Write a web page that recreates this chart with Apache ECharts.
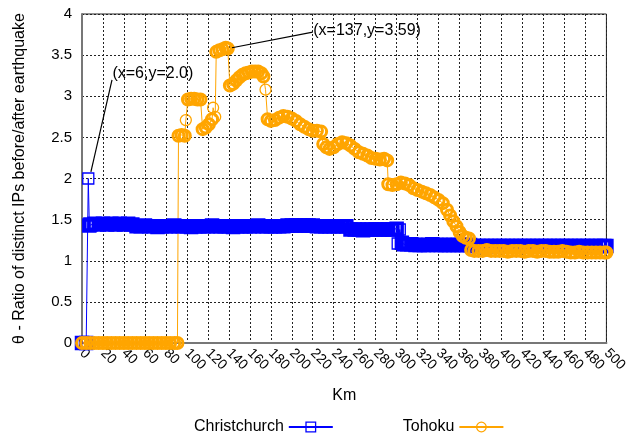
<!DOCTYPE html>
<html>
<head>
<meta charset="utf-8">
<script src="https://cdn.jsdelivr.net/npm/echarts@6/dist/echarts.min.js"></script>
<style>
  html, body { margin: 0; padding: 0; background: #fff; }
  #chart { width: 630px; height: 433px; }
</style>
</head>
<body>
<div id="chart"></div>
<script>
// Christchurch samples (km, ratio)
const chchKm = [0, 4, 6, 7,
  8, 12, 16, 20, 24, 28, 32, 36, 40, 44, 48, 52, 56, 60, 64, 68, 72, 76, 80, 84, 88, 92, 96,
  100, 104, 108, 112, 116, 120, 124, 128, 132, 136, 140, 144, 148, 152, 156, 160, 164, 168, 172, 176,
  180, 184, 188, 192, 196, 200, 204, 208, 212, 216, 220, 224, 228, 232, 236, 240, 244, 248, 252,
  256, 260, 264, 268, 272, 276, 280, 284, 288, 292, 296, 300, 301, 303, 305, 307,
  310, 314, 318, 322, 326, 330, 334, 338, 342, 346, 350, 354, 358, 362, 366, 370, 374, 378,
  382, 386, 390, 394, 398, 402, 406, 410, 414, 418, 422, 426, 430, 434, 438, 442, 446, 450,
  454, 458, 462, 466, 470, 474, 478, 482, 486, 490, 494, 498, 500];
const chchRatio = [0, 0, 2.0, 1.43,
  1.44, 1.45, 1.44, 1.45, 1.44, 1.45, 1.44, 1.45, 1.44, 1.45, 1.44, 1.42, 1.42, 1.43, 1.42, 1.42, 1.41, 1.42, 1.42, 1.42, 1.43, 1.42, 1.42,
  1.42, 1.41, 1.42, 1.42, 1.42, 1.42, 1.43, 1.42, 1.42, 1.42, 1.42, 1.41, 1.42, 1.42, 1.42, 1.42, 1.42, 1.43, 1.42, 1.42,
  1.42, 1.42, 1.42, 1.42, 1.43, 1.43, 1.43, 1.43, 1.43, 1.43, 1.43, 1.42, 1.42, 1.42, 1.42, 1.42, 1.42, 1.42, 1.42,
  1.38, 1.38, 1.38, 1.37, 1.38, 1.38, 1.38, 1.38, 1.38, 1.38, 1.38, 1.39, 1.21, 1.38, 1.22, 1.20,
  1.20, 1.20, 1.19, 1.19, 1.19, 1.19, 1.20, 1.19, 1.19, 1.19, 1.19, 1.19, 1.19, 1.19, 1.19, 1.19, 1.18, 1.18,
  1.18, 1.18, 1.18, 1.18, 1.18, 1.18, 1.18, 1.18, 1.18, 1.18, 1.18, 1.18, 1.18, 1.18, 1.18, 1.18, 1.18, 1.18,
  1.18, 1.18, 1.18, 1.18, 1.18, 1.18, 1.18, 1.18, 1.18, 1.18, 1.18, 1.18, 1.18];

// Tohoku samples (km, ratio)
const tohokuKm = [0, 4, 8, 12, 16, 20, 24, 28, 32, 36, 40, 44, 48, 52, 56, 60, 64, 68, 72, 76, 80, 84, 88, 91,
  92, 95, 98, 99, 101, 104, 107, 110, 113, 115, 118, 121, 124, 125, 127,
  128, 131, 134, 137, 139, 141, 144, 147, 150, 153, 156, 159, 162, 165, 168, 171, 173, 175,
  177, 180, 184, 188, 192, 196, 200, 204, 208, 212, 216, 220, 224, 228,
  230, 233, 236, 240, 244, 248, 252, 256, 260, 264, 268, 272, 276, 280, 284, 288, 291,
  292, 296, 300, 304, 308, 312, 316, 320, 324, 328, 332, 336, 340, 344, 348, 351, 354, 357, 360, 363, 366, 369,
  371, 374, 378, 382, 386, 390, 394, 398, 402, 406, 410, 414, 418, 422, 426, 430, 434, 438, 442, 446,
  450, 454, 458, 462, 466, 470, 474, 478, 482, 486, 490, 494, 498, 500];
const tohokuRatio = [0, 0, 0, 0, 0, 0, 0, 0, 0, 0, 0, 0, 0, 0, 0, 0, 0, 0, 0, 0, 0, 0, 0, 0,
  2.52, 2.53, 2.52, 2.71, 2.96, 2.97, 2.97, 2.96, 2.96, 2.60, 2.62, 2.66, 2.72, 2.86, 2.75,
  3.54, 3.56, 3.57, 3.59, 3.58, 3.13, 3.15, 3.19, 3.23, 3.26, 3.28, 3.29, 3.30, 3.30, 3.30, 3.28, 3.24, 3.08,
  2.72, 2.70, 2.71, 2.74, 2.76, 2.75, 2.73, 2.70, 2.66, 2.63, 2.60, 2.58, 2.58, 2.57,
  2.42, 2.38, 2.36, 2.38, 2.42, 2.44, 2.43, 2.40, 2.36, 2.32, 2.30, 2.28, 2.25, 2.24, 2.23, 2.24, 2.22,
  1.93, 1.92, 1.93, 1.95, 1.94, 1.92, 1.88, 1.86, 1.84, 1.82, 1.80, 1.77, 1.74, 1.70, 1.62, 1.55, 1.48, 1.42, 1.35, 1.30, 1.28, 1.27,
  1.13, 1.12, 1.12, 1.12, 1.13, 1.12, 1.12, 1.12, 1.12, 1.11, 1.12, 1.12, 1.12, 1.11, 1.12, 1.12, 1.11, 1.12, 1.12, 1.11,
  1.11, 1.11, 1.12, 1.11, 1.10, 1.10, 1.11, 1.10, 1.10, 1.10, 1.10, 1.10, 1.10, 1.10];

const seriesNames = ['Christchurch', 'Tohoku'];
const FONT = 'Liberation Sans, Arial, sans-serif';
const BLUE = '#0000ff';
const ORANGE = '#ffa500';

const chart = echarts.init(document.getElementById('chart'), null, { renderer: 'canvas' });

// points far from both neighbours get a thin outline, the rest overlap into a band
function pairs(xs, ys) {
  return xs.map((x, i) => {
    const prev = i > 0 ? ys[i - 1] : null;
    const next = i < ys.length - 1 ? ys[i + 1] : null;
    const lone = (prev === null || Math.abs(ys[i] - prev) > 0.1) &&
                 (next === null || Math.abs(ys[i] - next) > 0.1);
    const item = { value: [x, ys[i]] };
    if (lone) item.itemStyle = { borderWidth: 1.3 };
    return item;
  });
}

const noteStyle = { color: '#000', fontSize: 16, fontFamily: FONT };

chart.setOption({
  animation: false,
  backgroundColor: '#fff',
  grid: {
    left: 82, right: 23, top: 14, bottom: 90,
    show: true, borderColor: '#222', borderWidth: 1
  },
  legend: {
    data: seriesNames,
    left: 189, top: 414,
    align: 'right',
    itemWidth: 44, itemHeight: 12, itemGap: 69,
    textStyle: { color: '#000', fontSize: 16, fontFamily: FONT },
    itemStyle: { borderWidth: 1.3 }
  },
  xAxis: {
    type: 'value',
    min: 0, max: 500, interval: 20,
    name: 'Km', nameLocation: 'middle', nameGap: 45,
    nameTextStyle: { color: '#000', fontSize: 16, fontFamily: FONT },
    axisLine: { show: true, lineStyle: { color: '#777', width: 2 } },
    axisTick: { show: false },
    axisLabel: { rotate: -45, color: '#000', fontSize: 14, fontFamily: FONT, margin: 8 },
    splitLine: { show: true, lineStyle: { color: '#222', type: [2, 2], width: 1 } }
  },
  yAxis: {
    type: 'value',
    min: 0, max: 4, interval: 0.5,
    name: 'θ - Ratio of distinct IPs before/after earthquake',
    nameLocation: 'middle', nameGap: 54,
    nameTextStyle: { color: '#000', fontSize: 16, fontFamily: FONT },
    axisLine: { show: true, lineStyle: { color: '#777', width: 2 } },
    axisTick: { show: false },
    axisLabel: { color: '#000', fontSize: 15, fontFamily: FONT, margin: 10 },
    splitLine: { show: true, lineStyle: { color: '#222', type: [2, 2], width: 1 } }
  },
  series: [
    {
      name: seriesNames[0],
      type: 'line',
      data: pairs(chchKm, chchRatio),
      symbol: 'rect', symbolSize: 11,
      lineStyle: { color: BLUE, width: 1 },
      itemStyle: { color: 'rgba(0,0,0,0)', borderColor: BLUE, borderWidth: 3.5 },
      markLine: {
        silent: true, symbol: ['none', 'none'],
        lineStyle: { color: '#000', type: 'solid', width: 1.2 },
        label: { show: false },
        data: [[{ coord: [28.6, 3.2] }, { coord: [8.5, 2.08] }]]
      },
      markPoint: {
        symbol: 'circle', symbolSize: 0,
        label: { show: true, position: 'right', distance: 0, formatter: '(x=6,y=2.0)', ...noteStyle },
        data: [{ coord: [29, 3.27] }]
      }
    },
    {
      name: seriesNames[1],
      type: 'line',
      data: pairs(tohokuKm, tohokuRatio),
      symbol: 'circle', symbolSize: 11,
      lineStyle: { color: ORANGE, width: 1 },
      itemStyle: { color: 'rgba(0,0,0,0)', borderColor: ORANGE, borderWidth: 3 },
      markLine: {
        silent: true, symbol: ['none', 'none'],
        lineStyle: { color: '#000', type: 'solid', width: 1.2 },
        label: { show: false },
        data: [[{ coord: [220, 3.78] }, { coord: [143, 3.59] }]]
      },
      markPoint: {
        symbol: 'circle', symbolSize: 0,
        label: { show: true, position: 'right', distance: 0, formatter: '(x=137,y=3.59)', ...noteStyle },
        data: [{ coord: [220.5, 3.8] }]
      }
    }
  ]
});
</script>
</body>
</html>
